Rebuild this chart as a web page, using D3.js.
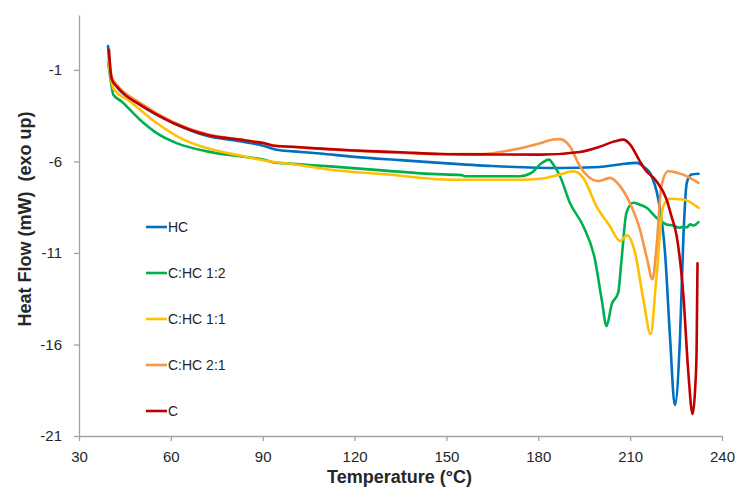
<!DOCTYPE html>
<html>
<head>
<meta charset="utf-8">
<script src="https://cdn.jsdelivr.net/npm/d3@7"></script>
<style>
  html, body { margin: 0; padding: 0; background: #fff; }
  svg { display: block; font-family: "Liberation Sans", Arial, sans-serif; }
</style>
</head>
<body>
<svg id="chart" width="741" height="488"></svg>
<script>
// DSC thermograms: temperature (°C) vs heat flow (mW), exo up
const seriesNames = ["HC", "C:HC 1:2", "C:HC 1:1", "C:HC 2:1", "C"];
const seriesColors = ["#0070C0", "#00B050", "#FFC000", "#F79646", "#C00000"];

const xTicks = [30, 60, 90, 120, 150, 180, 210, 240];
const yTicks = [-21, -16, -11, -6, -1];

// [temperature, heat flow] samples per sample
const hcData = [
  [39.5, 0.3], [40.0, -0.8], [40.7, -1.5], [42.3, -1.9], [49.9, -2.9], [60.8, -3.9],
  [71.7, -4.6], [82.6, -4.9], [90.2, -5.14], [94.5, -5.36], [100, -5.45], [108.7, -5.57],
  [120, -5.75], [135, -5.93], [147.9, -6.08], [165, -6.25], [187.1, -6.36], [200, -6.3],
  [207, -6.15], [212.1, -6.08], [214.5, -6.3], [216.5, -6.63], [219.2, -8.08], [221.4, -11.0],
  [223, -15.53], [224.6, -19.31], [226.3, -15.53], [227.4, -10.08], [228.5, -7.17],
  [230, -6.72], [232.3, -6.67]
];

const c12Data = [
  [39.5, -0.6], [40.3, -1.5], [41.2, -2.36], [43.9, -2.72], [49.9, -3.72], [55.4, -4.45],
  [61.9, -5.0], [71.7, -5.45], [82.6, -5.72], [90.2, -5.9], [93.5, -6.05], [98.9, -6.12],
  [112, -6.27], [130, -6.5], [145, -6.68], [155, -6.75], [156, -6.81], [174, -6.81],
  [178, -6.6], [181, -6.1], [183.5, -5.9], [185, -6.2], [187.1, -6.81], [190.3, -8.26],
  [194.7, -9.54], [198.5, -11.35], [200.7, -13.53], [202.3, -14.99], [204, -13.8],
  [206.1, -13.17], [207.2, -11.35], [208.8, -8.8], [211, -8.26], [213, -8.35], [215.4, -8.53],
  [218.6, -9.08], [221.9, -9.44], [224, -9.5], [226, -9.62], [227.4, -9.57], [228.5, -9.6],
  [229.6, -9.44], [230.8, -9.5], [232.3, -9.32]
];

const c11Data = [
  [39.6, -0.6], [40.5, -1.5], [41.2, -2.0], [46.7, -2.72], [55.4, -3.9], [64.1, -4.81],
  [71.7, -5.27], [82.6, -5.68], [92.4, -6.0], [100, -6.15], [112, -6.45], [130, -6.7],
  [152.2, -7.0], [174, -7.0], [180.6, -6.95], [187, -6.72], [191.4, -6.54], [194.7, -6.9],
  [199, -8.45], [203.4, -9.54], [206.7, -10.35], [209, -10.04], [211.6, -10.99], [214.3, -13.53],
  [216.7, -15.44], [218.5, -12.5], [220.8, -8.45], [223, -8.04], [227.4, -8.08], [232.3, -8.53]
];

const c21Data = [
  [40.0, -0.5], [40.7, -1.4], [42.3, -1.8], [49.9, -2.8], [60.8, -3.85], [71.7, -4.5],
  [82.6, -4.8], [90.2, -5.0], [93.5, -5.12], [108.7, -5.3], [147.9, -5.59], [160, -5.6],
  [165, -5.55], [172, -5.35], [180.6, -5.0], [184.8, -4.8], [187.1, -4.78], [190.3, -5.17],
  [193.6, -6.27], [199.6, -7.08], [203.4, -6.9], [206.7, -7.35], [210, -8.3], [213.2, -9.72],
  [215.5, -11.3], [217.3, -12.44], [218.7, -10.5], [220.2, -7.35], [222.4, -6.54], [225, -6.6],
  [227.3, -6.72], [232.3, -7.17]
];

const cData = [
  [39.8, 0.1], [40.2, -0.9], [40.7, -1.5], [42.3, -1.9], [45, -2.35], [49.9, -2.9], [55, -3.4],
  [60.8, -3.9], [66, -4.25], [71.7, -4.54], [77, -4.7], [82.6, -4.81], [87, -4.92], [90.2, -4.99],
  [93.5, -5.14], [100, -5.2], [108.7, -5.3], [120, -5.4], [135, -5.5], [147.9, -5.59],
  [165, -5.62], [180.6, -5.63], [193.6, -5.48], [200, -5.2], [205, -4.9], [207.8, -4.81],
  [210, -5.08], [213.2, -6.0], [214.9, -6.45], [218.6, -7.08], [221.9, -8.08], [223.5, -9.0],
  [225.2, -10.08], [227.4, -13.35], [229, -17.53], [230.4, -19.8], [231.2, -18.5],
  [231.7, -16.4], [232, -11.57]
];

const seriesData = [hcData, c12Data, c11Data, c21Data, cData];

const svg = d3.select("#chart");
const plot = { left: 79, right: 722, top: 15, bottom: 436 };

const x = d3.scaleLinear().domain([30, 240]).range([plot.left, plot.right]);
const y = d3.scaleLinear().domain([-21, 2]).range([plot.bottom, plot.top]);

const axisColor = "#a3a3a3";
const textColor = "#262626";
// plain hyphen-minus for negative tick values
const plainNumber = d => String(d);

// x axis
const gx = svg.append("g")
  .attr("transform", `translate(0,${plot.bottom})`)
  .call(d3.axisBottom(x).tickValues(xTicks).tickFormat(plainNumber)
    .tickSize(5).tickSizeOuter(0).tickPadding(10));
gx.select(".domain").attr("stroke", axisColor).attr("stroke-width", 1.3);
gx.selectAll(".tick line").attr("stroke", axisColor).attr("stroke-width", 1.3);
gx.selectAll(".tick text").attr("fill", textColor).attr("font-size", 15)
  .attr("font-family", "Liberation Sans, Arial, sans-serif");

// y axis
const gy = svg.append("g")
  .attr("transform", `translate(${plot.left},0)`)
  .call(d3.axisLeft(y).tickValues(yTicks).tickFormat(plainNumber)
    .tickSize(5).tickSizeOuter(0).tickPadding(12));
gy.select(".domain").attr("stroke", axisColor).attr("stroke-width", 1.3);
gy.selectAll(".tick line").attr("stroke", axisColor).attr("stroke-width", 1.3);
gy.selectAll(".tick text").attr("fill", textColor).attr("font-size", 15)
  .attr("font-family", "Liberation Sans, Arial, sans-serif");

// axis titles
svg.append("text")
  .attr("x", (plot.left + plot.right) / 2 - 1)
  .attr("y", 483)
  .attr("text-anchor", "middle")
  .attr("font-size", 18)
  .attr("font-weight", "bold")
  .attr("fill", textColor)
  .text("Temperature (°C)");

svg.append("text")
  .attr("transform", "translate(31,219) rotate(-90)")
  .attr("text-anchor", "middle")
  .attr("font-size", 18)
  .attr("font-weight", "bold")
  .attr("fill", textColor)
  .style("white-space", "pre")
  .text("Heat Flow (mW)  (exo up)");

// curves
const line = d3.line()
  .x(d => x(d[0]))
  .y(d => y(d[1]))
  .curve(d3.curveMonotoneX);

svg.append("g")
  .selectAll("path")
  .data(seriesData)
  .join("path")
  .attr("d", line)
  .attr("fill", "none")
  .attr("stroke", (d, i) => seriesColors[i])
  .attr("stroke-width", 2.6)
  .attr("stroke-linejoin", "round")
  .attr("stroke-linecap", "round");

// legend
const legend = svg.append("g").attr("transform", "translate(146,227)");
const rows = legend.selectAll("g")
  .data(seriesNames)
  .join("g")
  .attr("transform", (d, i) => `translate(0,${i * 46})`);
rows.append("line")
  .attr("x1", 0).attr("x2", 21)
  .attr("stroke", (d, i) => seriesColors[i])
  .attr("stroke-width", 2.6);
rows.append("text")
  .attr("x", 22)
  .attr("y", 5)
  .attr("font-size", 14)
  .attr("fill", textColor)
  .text(d => d);
</script>
</body>
</html>
